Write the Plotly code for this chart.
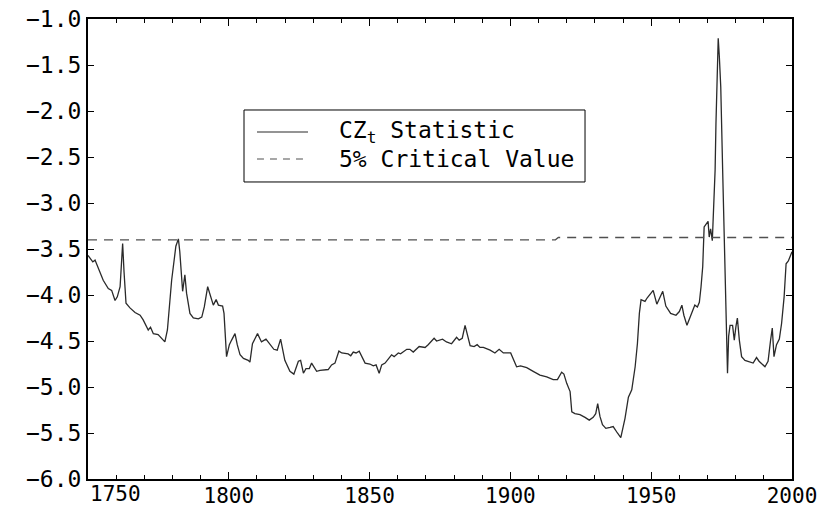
import plotly.graph_objects as go

# CZ_t statistic
years = [1750, 1751.7, 1752.5, 1753.7, 1755.4, 1757.2, 1758.4, 1759.6, 1760.4, 1761.4,
         1762.3, 1762.8, 1763.5, 1764.9, 1766.7, 1768.5, 1769.6, 1771.4, 1772.2, 1773.2,
         1774.9, 1777.3, 1778.2, 1779.7, 1781.2, 1782.1, 1782.6, 1783.6, 1784.4, 1785.0,
         1786.2, 1787.4, 1789.2, 1790.4, 1791.3, 1792.5, 1793.3, 1794.5, 1795.5, 1796.3,
         1797.8, 1798.3, 1799.2, 1800.2, 1801.0, 1802.2, 1803.0, 1804.0, 1805.2, 1806.9,
         1807.5, 1808.4, 1810.2, 1811.6, 1813.2, 1814.6, 1816.0, 1817.2, 1818.4, 1819.9,
         1821.7, 1823.1, 1824.7, 1825.5, 1826.5, 1827.4, 1828.6, 1829.4, 1831.2, 1832.4,
         1835.3, 1836.5, 1837.7, 1839.1, 1840.1, 1842.4, 1843.3, 1844.2, 1845.2, 1846.3,
         1848.4, 1850.1, 1851.3, 1852.3, 1853.4, 1854.3, 1855.5, 1857.8, 1858.7, 1860.2,
         1861.0, 1863.2, 1864.3, 1865.5, 1867.6, 1869.7, 1870.8, 1872.9, 1873.8, 1875.9,
         1877.3, 1879.1, 1880.9, 1881.8, 1882.9, 1883.9, 1884.7, 1885.7, 1887.1, 1888.2,
         1889.2, 1890.4, 1892.8, 1894.5, 1896.0, 1897.5, 1900.1, 1902.2, 1903.6, 1905.8,
         1908.1, 1910.5, 1912.9, 1915.2, 1916.7, 1918.2, 1919.0, 1920.0, 1921.2, 1921.8,
         1922.9, 1924.7, 1926.5, 1928.0, 1929.4, 1930.3, 1931.0, 1931.8, 1932.7, 1933.9,
         1935.4, 1936.5, 1938.0, 1939.2, 1940.7, 1941.9, 1943.1, 1944.3, 1945.1, 1945.8,
         1946.4, 1947.8, 1948.6, 1949.8, 1950.7, 1952.0, 1954.1, 1955.2, 1956.9, 1958.8,
         1960.0, 1960.9, 1961.6, 1962.7, 1963.8, 1965.5, 1966.4, 1967.1, 1967.7, 1968.3,
         1968.8, 1969.5, 1970.2, 1970.6, 1971.1, 1971.7, 1972.1, 1972.7, 1973.0, 1973.5,
         1973.8, 1974.2, 1974.7, 1975.4, 1975.8, 1976.6, 1977.0, 1977.1, 1977.5, 1978.0,
         1978.9, 1979.5, 1980.1, 1980.6, 1981.3, 1982.1, 1983.3, 1985.1, 1986.2, 1987.4,
         1988.3, 1990.4, 1991.5, 1992.4, 1993.0, 1993.6, 1994.5, 1995.5, 1996.3, 1997.2,
         1997.9, 1998.7, 1999.3, 2000.0]

cz_t = [-3.57, -3.64, -3.62, -3.71, -3.84, -3.93, -3.95, -4.06, -4.02, -3.91,
        -3.44, -3.75, -4.09, -4.14, -4.19, -4.22, -4.27, -4.38, -4.35, -4.42,
        -4.43, -4.51, -4.38, -3.84, -3.47, -3.39, -3.53, -3.96, -3.78, -3.98,
        -4.20, -4.25, -4.26, -4.24, -4.13, -3.91, -4.00, -4.11, -4.05, -4.11,
        -4.12, -4.20, -4.67, -4.54, -4.49, -4.42, -4.54, -4.65, -4.69, -4.71,
        -4.73, -4.53, -4.42, -4.51, -4.48, -4.53, -4.59, -4.60, -4.48, -4.71,
        -4.83, -4.86, -4.72, -4.71, -4.85, -4.80, -4.80, -4.74, -4.83, -4.82,
        -4.81, -4.76, -4.74, -4.61, -4.63, -4.64, -4.66, -4.62, -4.63, -4.61,
        -4.74, -4.75, -4.77, -4.76, -4.85, -4.76, -4.74, -4.65, -4.67, -4.63,
        -4.64, -4.59, -4.59, -4.62, -4.56, -4.57, -4.54, -4.47, -4.50, -4.48,
        -4.51, -4.53, -4.46, -4.49, -4.47, -4.33, -4.42, -4.55, -4.56, -4.54,
        -4.57, -4.57, -4.60, -4.63, -4.59, -4.63, -4.63, -4.78, -4.77, -4.79,
        -4.83, -4.87, -4.89, -4.92, -4.92, -4.84, -4.86, -4.96, -5.05, -5.27,
        -5.29, -5.30, -5.33, -5.36, -5.33, -5.29, -5.18, -5.32, -5.41, -5.45,
        -5.44, -5.43, -5.50, -5.55, -5.34, -5.11, -5.03, -4.78, -4.53, -4.20,
        -4.05, -4.07, -4.03, -3.99, -3.95, -4.10, -3.96, -4.12, -4.20, -4.22,
        -4.18, -4.11, -4.22, -4.33, -4.25, -4.11, -4.13, -4.08, -3.91, -3.69,
        -3.26, -3.23, -3.20, -3.37, -3.28, -3.41, -3.11, -2.64, -2.13, -1.54,
        -1.21, -1.41, -1.74, -2.68, -3.18, -3.95, -4.51, -4.85, -4.45, -4.33,
        -4.33, -4.49, -4.34, -4.25, -4.49, -4.67, -4.71, -4.73, -4.74, -4.68,
        -4.72, -4.78, -4.72, -4.49, -4.36, -4.67, -4.54, -4.48, -4.31, -4.02,
        -3.66, -3.63, -3.59, -3.53]

# 5% critical value
crit_years = [1750, 1916, 1917, 2000]
crit_values = [-3.40, -3.40, -3.375, -3.375]

x_tick_years = [1800, 1850, 1900, 1950, 2000]
y_ticks = [-6.0, -5.5, -5.0, -4.5, -4.0, -3.5, -3.0, -2.5, -2.0, -1.5, -1.0]

series_names = ["CZ<sub>t</sub> Statistic", "5% Critical Value"]

FONT = "DejaVu Sans Mono"
FS = 23
XFS = 21
SOLID_COLOR = "#2a2a2a"
DASH_COLOR = "#505050"
DASH = "9px,7px"

fig = go.Figure()
fig.add_trace(go.Scatter(
    x=years, y=cz_t, mode="lines", name=series_names[0], showlegend=False,
    line=dict(color=SOLID_COLOR, width=1.3)))
fig.add_trace(go.Scatter(
    x=crit_years, y=crit_values, mode="lines", name=series_names[1], showlegend=False,
    line=dict(color=DASH_COLOR, width=1.3, dash=DASH)))

# legend box drawn by hand (paper coordinates) so the sample lines can be long
leg_x0, leg_x1, leg_y0, leg_y1 = 0.2216, 0.706, 0.6457, 0.8022
row_y = [0.7543, 0.6957]
samp_x0, samp_x1, text_x = 0.240, 0.3125, 0.3537

shapes = [
    dict(type="rect", xref="paper", yref="paper", x0=leg_x0, x1=leg_x1, y0=leg_y0, y1=leg_y1,
         line=dict(color="black", width=1), fillcolor="white", layer="above"),
    dict(type="line", xref="paper", yref="paper", x0=samp_x0, x1=samp_x1, y0=row_y[0], y1=row_y[0],
         line=dict(color=SOLID_COLOR, width=1.2), layer="above"),
    dict(type="line", xref="paper", yref="paper", x0=samp_x0, x1=samp_x1, y0=row_y[1], y1=row_y[1],
         line=dict(color=DASH_COLOR, width=1.2, dash="7px,6px"), layer="above"),
]

annotations = [
    dict(x=text_x, y=row_y[0], xref="paper", yref="paper", text=series_names[0],
         xanchor="left", yanchor="middle", showarrow=False,
         font=dict(family=FONT, size=FS, color="black")),
    dict(x=text_x, y=row_y[1], xref="paper", yref="paper", text=series_names[1],
         xanchor="left", yanchor="middle", showarrow=False,
         font=dict(family=FONT, size=FS, color="black")),
    dict(x=1750, y=0, xref="x", yref="paper", text="1750",
         xanchor="left", yanchor="top", yshift=-1, showarrow=False,
         font=dict(family=FONT, size=XFS, color="black")),
]

fig.update_layout(
    width=833, height=509,
    margin=dict(l=88, r=41, t=19, b=30, autoexpand=False),
    paper_bgcolor="white", plot_bgcolor="white",
    font=dict(family=FONT, size=FS, color="black"),
    showlegend=False,
    shapes=shapes,
    annotations=annotations,
    xaxis=dict(
        range=[1750, 2000], showgrid=False, zeroline=False, automargin=False,
        showline=True, linecolor="black", linewidth=2, mirror="ticks",
        ticks="inside", ticklen=7, tickwidth=1, tickcolor="black",
        tickvals=x_tick_years, ticktext=[str(v) for v in x_tick_years],
        tickfont=dict(family=FONT, size=XFS), ticklabelstandoff=-3,
        minor=dict(dtick=10, tick0=1750, ticks="inside", ticklen=4,
                   tickcolor="black", tickwidth=1, showgrid=False),
    ),
    yaxis=dict(
        range=[-6, -1], showgrid=False, zeroline=False, automargin=False,
        showline=True, linecolor="black", linewidth=2, mirror="ticks",
        ticks="inside", ticklen=6, tickwidth=1, tickcolor="black",
        tickvals=y_ticks, tickformat=".1f",
        tickfont=dict(family=FONT, size=FS),
    ),
)

fig.write_html(
    "out.html",
    config={"displayModeBar": False},
    post_script="document.body.style.margin='0';document.body.style.overflow='hidden';",
)
